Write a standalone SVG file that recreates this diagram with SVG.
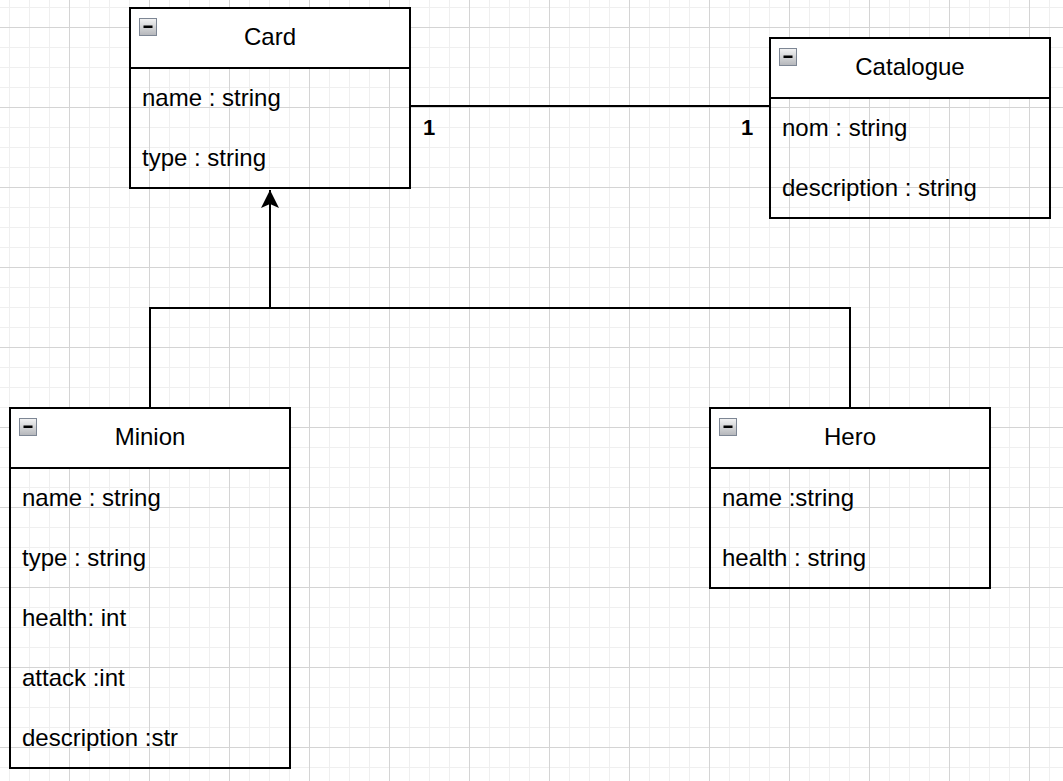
<svg xmlns="http://www.w3.org/2000/svg" width="1063" height="781" viewBox="0 0 1063 781">
<defs>
<pattern id="grid" patternUnits="userSpaceOnUse" x="69" y="27" width="80" height="80">
<path d="M20.5 0V80M40.5 0V80M60.5 0V80M0 20.5H80M0 40.5H80M0 60.5H80" stroke="#efefef" stroke-width="1" fill="none"/>
<path d="M0.5 0V80M0 0.5H80" stroke="#d4d4d4" stroke-width="1" fill="none"/>
</pattern>
<linearGradient id="ig" x1="0" y1="0" x2="0" y2="1">
<stop offset="0" stop-color="#f4f4f4"/>
<stop offset="1" stop-color="#b4b6ba"/>
</linearGradient>
<g id="icon">
<rect x="0.5" y="0.5" width="17" height="17" fill="url(#ig)" stroke="#7d8694" stroke-width="1"/>
<rect x="4.5" y="7.5" width="9" height="2.5" fill="#000"/>
</g>
<marker id="tri" markerUnits="userSpaceOnUse" markerWidth="20" markerHeight="20" refX="18" refY="9" orient="auto">
<path d="M18 9L0 0L4 9L0 18Z" fill="#000"/>
</marker>
</defs>
<style>
.hdr{fill:#fff;stroke:#000;stroke-width:2}
.box{fill:none;stroke:#000;stroke-width:2}
.t{font-family:"Liberation Sans",Arial,sans-serif;font-size:24px;fill:#000}
.c{text-anchor:middle}
.m{font-family:"Liberation Sans",Arial,sans-serif;font-size:22px;font-weight:bold;fill:#000}
.ln{fill:none;stroke:#000;stroke-width:2}
</style>
<rect width="1063" height="781" fill="#fff"/>
<rect width="1063" height="781" fill="url(#grid)"/>

<g id="connectors">
<path class="ln" d="M410 106H770"/>
<text class="m" x="423" y="135">1</text>
<text class="m" x="741" y="135">1</text>
<path class="ln" d="M150 408V308H850V408M270 308V190" marker-end="url(#tri)"/>
</g>

<g id="card">
<rect class="hdr" x="130" y="8" width="280" height="60"/>
<rect class="box" x="130" y="68" width="280" height="120"/>
<use href="#icon" x="139" y="18"/>
<text class="t c" x="270" y="45">Card</text>
<text class="t" x="142" y="106">name : string</text>
<text class="t" x="142" y="166">type : string</text>
</g>

<g id="catalogue">
<rect class="hdr" x="770" y="38" width="280" height="60"/>
<rect class="box" x="770" y="98" width="280" height="120"/>
<use href="#icon" x="779" y="48"/>
<text class="t c" x="910" y="75">Catalogue</text>
<text class="t" x="782" y="136">nom : string</text>
<text class="t" x="782" y="196">description : string</text>
</g>

<g id="minion">
<rect class="hdr" x="10" y="408" width="280" height="60"/>
<rect class="box" x="10" y="468" width="280" height="300"/>
<use href="#icon" x="19" y="418"/>
<text class="t c" x="150" y="445">Minion</text>
<text class="t" x="22" y="506">name : string</text>
<text class="t" x="22" y="566">type : string</text>
<text class="t" x="22" y="626">health: int</text>
<text class="t" x="22" y="686">attack :int</text>
<text class="t" x="22" y="746">description :str</text>
</g>

<g id="hero">
<rect class="hdr" x="710" y="408" width="280" height="60"/>
<rect class="box" x="710" y="468" width="280" height="120"/>
<use href="#icon" x="719" y="418"/>
<text class="t c" x="850" y="445">Hero</text>
<text class="t" x="722" y="506">name :string</text>
<text class="t" x="722" y="566">health : string</text>
</g>
</svg>
